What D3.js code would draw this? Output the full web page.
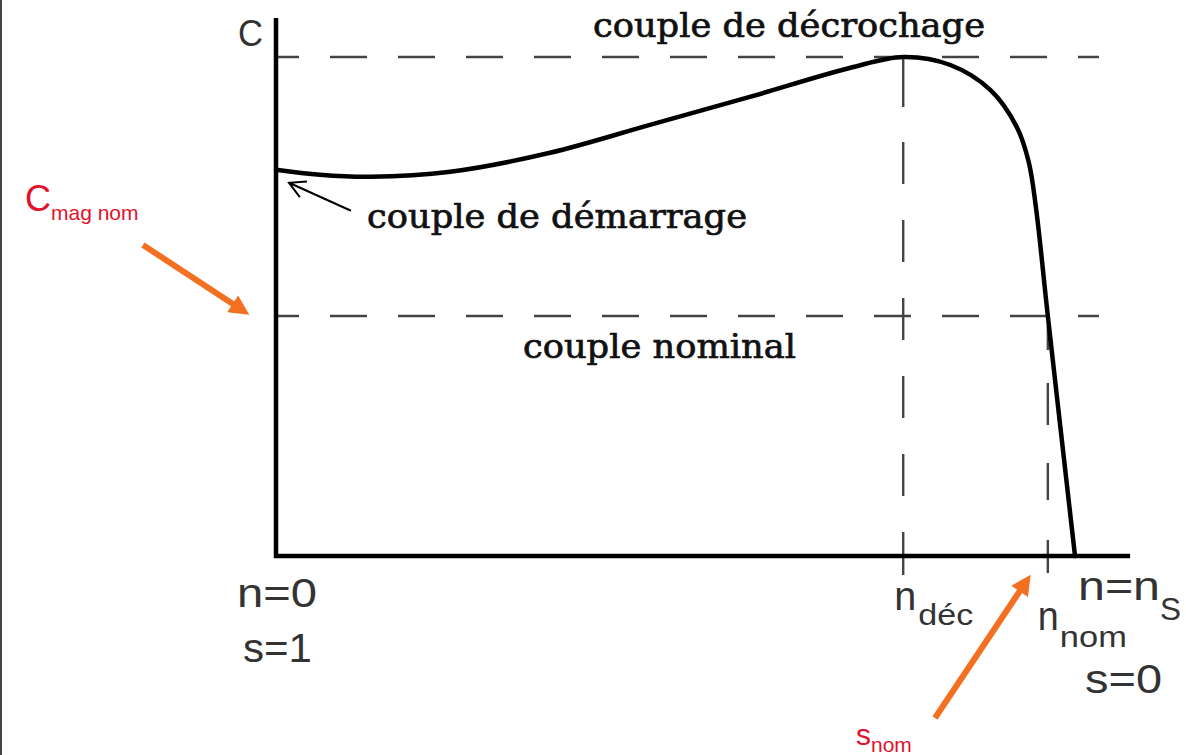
<!DOCTYPE html>
<html>
<head>
<meta charset="utf-8">
<script src="https://cdn.jsdelivr.net/npm/d3@7"></script>
<style>
  html, body { margin: 0; padding: 0; background: #fff; }
  svg { display: block; }
</style>
</head>
<body>
<svg id="chart"></svg>
<script>
// speed (n / ns) and torque (C / C decrochage)
const speedN  = [0, 0.055, 0.118, 0.218, 0.343, 0.468, 0.593, 0.718, 0.785, 0.844, 0.894, 0.927, 0.942, 0.951, 0.966, 1.0];
const torqueC = [0.774, 0.764, 0.760, 0.770, 0.808, 0.864, 0.920, 0.978, 1.0, 0.984, 0.934, 0.860, 0.790, 0.700, 0.481, 0];

const levelDecrochage = 1;
const levelNominal = 0.481;
const nDec = 0.785;
const nNom = 0.966;

const W = 1186, H = 755;
const svg = d3.select("#chart").attr("width", W).attr("height", H);

const x = d3.scaleLinear().domain([0, 1]).range([276, 1075]);
const y = d3.scaleLinear().domain([0, 1]).range([556, 57]);

const ink = "#000", grey = "#444", label = "#333";
const red = "#e2122c", orange = "#f37021";

// frame edge on the left
svg.append("line")
  .attr("x1", 1).attr("x2", 1).attr("y1", 0).attr("y2", H)
  .attr("stroke", "#444").attr("stroke-width", 2);

// dashed reference lines
const hLevels = [levelDecrochage, levelNominal];
svg.selectAll("line.hdash")
  .data(hLevels)
  .enter().append("line")
    .attr("class", "hdash")
    .attr("x1", x(0) + 2).attr("x2", x(1.03))
    .attr("y1", d => y(d)).attr("y2", d => y(d))
    .attr("stroke", grey).attr("stroke-width", 2.6)
    .attr("stroke-dasharray", "37,31")
    .attr("stroke-dashoffset", 16);

svg.append("line")
  .attr("x1", x(nDec)).attr("x2", x(nDec))
  .attr("y1", y(levelDecrochage)).attr("y2", y(-0.038))
  .attr("stroke", grey).attr("stroke-width", 2.4)
  .attr("stroke-dasharray", "50,35,42,36,42,36,42,36,42,36,42,36,60");

svg.append("line")
  .attr("x1", x(nNom)).attr("x2", x(nNom))
  .attr("y1", y(levelNominal) + 10).attr("y2", y(-0.034))
  .attr("stroke", grey).attr("stroke-width", 2.4)
  .attr("stroke-dasharray", "24,33,42,38,37,40,40");

// axes
svg.append("line")
  .attr("x1", x(0)).attr("x2", x(0))
  .attr("y1", y(1.078)).attr("y2", y(0) + 2)
  .attr("stroke", ink).attr("stroke-width", 4.5);
svg.append("line")
  .attr("x1", x(0) - 2).attr("x2", x(1.069))
  .attr("y1", y(0)).attr("y2", y(0))
  .attr("stroke", ink).attr("stroke-width", 4.5);

// torque curve
const pts = speedN.map((n, i) => [n, torqueC[i]]);
svg.append("path")
  .datum(pts)
  .attr("d", d3.line().x(d => x(d[0])).y(d => y(d[1])).curve(d3.curveCatmullRom.alpha(0.5)))
  .attr("fill", "none").attr("stroke", ink).attr("stroke-width", 4.5)
  .attr("stroke-linecap", "round");

// small arrow to the starting torque
const tipX = x(0) + 13, tipY = y(torqueC[0]) + 13;
const tailX = tipX + 62, tailY = tipY + 28;
const ang = Math.atan2(tipY - tailY, tipX - tailX);
const head = 18, spread = 0.5;
svg.append("path")
  .attr("d", `M${tailX},${tailY}L${tipX},${tipY}` +
    `M${tipX - head * Math.cos(ang - spread)},${tipY - head * Math.sin(ang - spread)}L${tipX},${tipY}` +
    `L${tipX - head * Math.cos(ang + spread)},${tipY - head * Math.sin(ang + spread)}`)
  .attr("fill", "none").attr("stroke", ink).attr("stroke-width", 2);

// serif annotations
const serifLabels = [
  { text: "couple de décrochage", x: 593, y: 37, w: 392 },
  { text: "couple de démarrage", x: 367, y: 228, w: 380 },
  { text: "couple nominal", x: 523, y: 358, w: 273 }
];
svg.selectAll("text.serif")
  .data(serifLabels)
  .enter().append("text")
    .attr("class", "serif")
    .attr("x", d => d.x).attr("y", d => d.y)
    .attr("textLength", d => d.w).attr("lengthAdjust", "spacingAndGlyphs")
    .attr("font-family", "DejaVu Serif, serif")
    .attr("font-size", 33)
    .attr("fill", "#111")
    .attr("stroke", "#111").attr("stroke-width", 0.7)
    .text(d => d.text);

// sans labels on axes
function sansLabel(t, px, py, w, size) {
  return svg.append("text")
    .attr("x", px).attr("y", py)
    .attr("textLength", w).attr("lengthAdjust", "spacingAndGlyphs")
    .attr("font-family", "Liberation Sans, Arial, sans-serif")
    .attr("font-size", size)
    .attr("fill", label)
    .text(t);
}
sansLabel("C", 238, 46, 25, 37);
sansLabel("n=0", 237, 607, 80, 40);
sansLabel("s=1", 243, 662, 69, 40);
sansLabel("n", x(nDec) - 9, 610, 22, 40);
sansLabel("déc", x(nDec) + 15, 625, 55, 30);
sansLabel("n", x(nNom) - 10, 630, 21, 40);
sansLabel("nom", x(nNom) + 12, 647, 67, 30);
sansLabel("n=n", 1078, 600, 82, 40);
sansLabel("S", 1160, 620, 21, 32);
sansLabel("s=0", 1085, 693, 77, 40);

// red labels
svg.append("text")
  .attr("x", 25).attr("y", 211)
  .attr("font-family", "Liberation Sans, Arial, sans-serif")
  .attr("fill", red)
  .call(t => {
    t.append("tspan").attr("font-size", 36).text("C");
    t.append("tspan").attr("font-size", 21).attr("dy", 9).text("mag nom");
  });
svg.append("text")
  .attr("x", 856).attr("y", 745)
  .attr("font-family", "Liberation Sans, Arial, sans-serif")
  .attr("fill", red)
  .call(t => {
    t.append("tspan").attr("font-size", 30).text("s");
    t.append("tspan").attr("font-size", 21).attr("dy", 7).text("nom");
  });

// orange arrows
const defs = svg.append("defs");
defs.append("marker")
  .attr("id", "oHead")
  .attr("viewBox", "0 0 10 10").attr("refX", 2).attr("refY", 5)
  .attr("markerWidth", 22).attr("markerHeight", 20)
  .attr("markerUnits", "userSpaceOnUse")
  .attr("orient", "auto")
  .append("path").attr("d", "M0,0L10,5L0,10Z").attr("fill", orange);

const orangeArrows = [
  { x1: 143, y1: 245, x2: x(0) - 40, y2: y(levelNominal) - 10 },
  { x1: 935, y1: 718, x2: x(nNom) - 26, y2: y(0) + 32 }
];
svg.selectAll("line.orange")
  .data(orangeArrows)
  .enter().append("line")
    .attr("class", "orange")
    .attr("x1", d => d.x1).attr("y1", d => d.y1)
    .attr("x2", d => d.x2).attr("y2", d => d.y2)
    .attr("stroke", orange).attr("stroke-width", 6)
    .attr("marker-end", "url(#oHead)");
</script>
</body>
</html>
